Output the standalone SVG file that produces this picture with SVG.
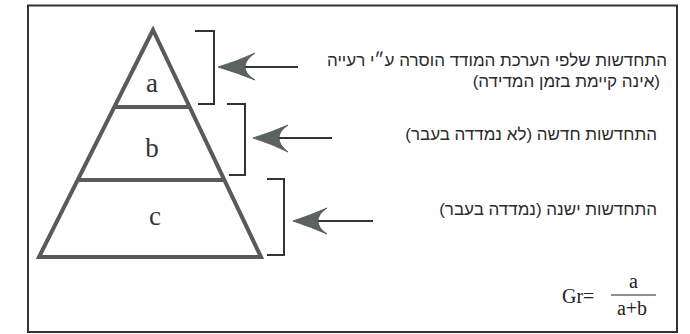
<svg xmlns="http://www.w3.org/2000/svg" width="690" height="334" viewBox="0 0 690 334">
  <style>
    .frame { fill: #ffffff; stroke: #333333; stroke-width: 2; }
    .pyr { fill: none; stroke: #5a5a5a; stroke-width: 4; stroke-linejoin: miter; }
    .bracket { fill: none; stroke: #333333; stroke-width: 2; }
    .shaft { fill: none; stroke: #333333; stroke-width: 2; }
    .head { fill: #5b635e; stroke: #4a504c; stroke-width: 0.8; }
    .lbl { font-family: "Liberation Serif", "DejaVu Serif", serif; font-size: 27px; fill: #333333; text-anchor: middle; }
    .heb { font-family: "Liberation Sans", "DejaVu Sans", sans-serif; font-size: 17px; fill: #2b2b2b; direction: rtl; text-anchor: start; }
    .math { font-family: "Liberation Serif", "DejaVu Serif", serif; fill: #222222; }
  </style>
  <rect class="frame" x="28" y="5.5" width="649" height="326.5"/>

  <g id="pyramid">
    <path class="pyr" d="M153,30 L39,257 L261,257 Z"/>
    <line class="pyr" x1="114" y1="107" x2="190" y2="107"/>
    <line class="pyr" x1="78" y1="180" x2="225" y2="180"/>
  </g>
  <g id="layer-a"><text class="lbl" x="152" y="92">a</text></g>
  <g id="layer-b"><text class="lbl" x="152" y="157">b</text></g>
  <g id="layer-c"><text class="lbl" x="155" y="225">c</text></g>

  <g id="brackets">
    <path class="bracket" d="M195,31 H214 V104 H198"/>
    <path class="bracket" d="M227,104 H245 V175 H229"/>
    <path class="bracket" d="M267,179 H284 V255 H267"/>
  </g>

  <g id="connectors">
    <line class="shaft" x1="244" y1="67" x2="298" y2="67"/>
    <path class="head" d="M218,67 Q238,61 255,53 Q245,60 245,67 Q245,74 255,80 Q238,73 218,67 Z"/>
    <line class="shaft" x1="278" y1="138" x2="332" y2="138"/>
    <path class="head" d="M253,138 Q272,132 288,125 Q279,131 279,138 Q279,145 288,152 Q272,144 253,138 Z"/>
    <line class="shaft" x1="317" y1="221" x2="373" y2="221"/>
    <path class="head" d="M293,221 Q311,215 327,208 Q318,214 318,221 Q318,228 327,234 Q311,227 293,221 Z"/>
  </g>

  <g id="label-a">
    <text class="heb" x="667" y="66">התחדשות שלפי הערכת המודד הוסרה ע״י רעייה</text>
    <text class="heb" x="660" y="87">(אינה קיימת בזמן המדידה)</text>
  </g>
  <g id="label-b">
    <text class="heb" x="657" y="140">התחדשות חדשה (לא נמדדה בעבר)</text>
  </g>
  <g id="label-c">
    <text class="heb" x="657" y="215">התחדשות ישנה (נמדדה בעבר)</text>
  </g>

  <g id="formula">
    <text class="math" x="562" y="303" font-size="20">Gr=</text>
    <text class="math" x="633.5" y="288" font-size="20" text-anchor="middle">a</text>
    <line x1="611" y1="295" x2="656" y2="295" stroke="#222222" stroke-width="1.2"/>
    <text class="math" x="632" y="315" font-size="20" text-anchor="middle">a+b</text>
  </g>
</svg>
